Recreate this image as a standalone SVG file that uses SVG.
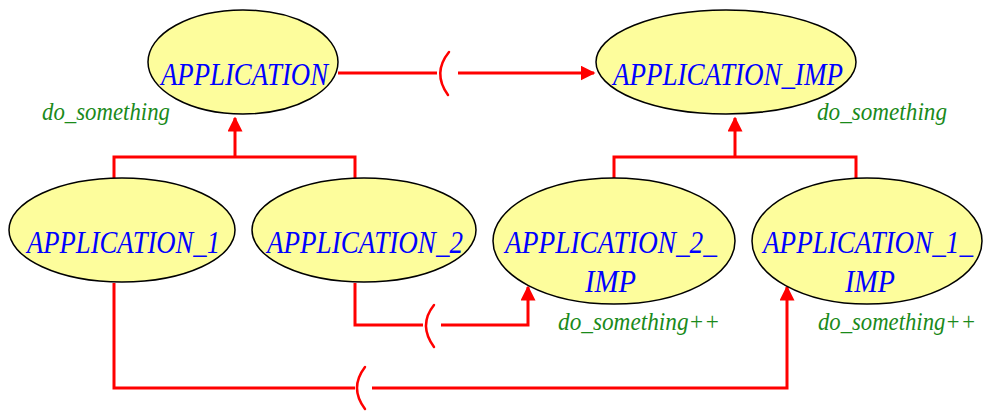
<svg xmlns="http://www.w3.org/2000/svg" width="984" height="411" viewBox="0 0 984 411">
<style>
.node ellipse{fill:#fdfd9c;stroke:#000;stroke-width:1.5}
.lbl{font-family:"Liberation Serif","Times New Roman",serif;font-style:italic;font-size:32px;fill:#0000ff}
.feat{font-family:"Liberation Serif","Times New Roman",serif;font-style:italic;font-size:25px;fill:#1a8a1a}
.wire{fill:none;stroke:#ff0000;stroke-width:3}
.arc{fill:none;stroke:#ff0000;stroke-width:2.5;stroke-linecap:round}
</style>
<defs>
<marker id="ah" markerWidth="5" markerHeight="5" refX="4.5" refY="2.5" orient="auto" markerUnits="strokeWidth">
<path d="M0,0 L5,2.5 L0,5 Z" fill="#ff0000"/>
</marker>
</defs>
<rect width="984" height="411" fill="#fff"/>
<g id="connectors">
<path class="wire" d="M338,73 H437"/>
<path class="arc" d="M449,52 Q432,73 448,95"/>
<path class="wire" d="M458,73 H594" stroke-width="3.5" marker-end="url(#ah)"/>
<path class="wire" d="M114,178 V157 H355 V178"/>
<path class="wire" d="M235,157 V118" marker-end="url(#ah)"/>
<path class="wire" d="M614,178 V157 H856 V180"/>
<path class="wire" d="M735,157 V118" marker-end="url(#ah)"/>
<path class="wire" d="M355,283 V325 H423"/>
<path class="arc" d="M434,305 Q418,325 434,347"/>
<path class="wire" d="M441,325 H528 V287" marker-end="url(#ah)"/>
<path class="wire" d="M114,283 V388 H355"/>
<path class="arc" d="M365,367 Q349,388 365,409"/>
<path class="wire" d="M372,388 H787 V287" marker-end="url(#ah)"/>
</g>
<g id="APPLICATION" class="node">
<ellipse cx="243" cy="62" rx="95" ry="52"/>
<text class="lbl" transform="translate(161,85) scale(0.84,1)" textLength="198.8" lengthAdjust="spacingAndGlyphs">APPLICATION</text>
<text class="feat" transform="translate(42,120) scale(0.92,1)" textLength="139.1" lengthAdjust="spacingAndGlyphs">do_something</text>
</g>
<g id="APPLICATION_IMP" class="node">
<ellipse cx="726" cy="62" rx="130" ry="52"/>
<text class="lbl" transform="translate(613,85) scale(0.84,1)" textLength="273.8" lengthAdjust="spacingAndGlyphs">APPLICATION_IMP</text>
<text class="feat" transform="translate(817,120) scale(0.92,1)" textLength="141.3" lengthAdjust="spacingAndGlyphs">do_something</text>
</g>
<g id="APPLICATION_1" class="node">
<ellipse cx="122" cy="230" rx="113" ry="52"/>
<text class="lbl" transform="translate(27,253) scale(0.84,1)" textLength="229.8" lengthAdjust="spacingAndGlyphs">APPLICATION_1</text>
</g>
<g id="APPLICATION_2" class="node">
<ellipse cx="364" cy="230" rx="112" ry="52"/>
<text class="lbl" transform="translate(267,253) scale(0.84,1)" textLength="233.3" lengthAdjust="spacingAndGlyphs">APPLICATION_2</text>
</g>
<g id="APPLICATION_2_IMP" class="node">
<ellipse cx="614" cy="241" rx="121" ry="63"/>
<text class="lbl" transform="translate(505,253) scale(0.84,1)" textLength="252.4" lengthAdjust="spacingAndGlyphs">APPLICATION_2_</text>
<text class="lbl" transform="translate(585,292) scale(0.84,1)" textLength="60.7" lengthAdjust="spacingAndGlyphs">IMP</text>
<text class="feat" transform="translate(558,330) scale(0.92,1)" textLength="176.1" lengthAdjust="spacingAndGlyphs">do_something++</text>
</g>
<g id="APPLICATION_1_IMP" class="node">
<ellipse cx="867" cy="241" rx="115" ry="63"/>
<text class="lbl" transform="translate(763,253) scale(0.84,1)" textLength="250" lengthAdjust="spacingAndGlyphs">APPLICATION_1_</text>
<text class="lbl" transform="translate(845,292) scale(0.84,1)" textLength="59.5" lengthAdjust="spacingAndGlyphs">IMP</text>
<text class="feat" transform="translate(818,330) scale(0.92,1)" textLength="171.7" lengthAdjust="spacingAndGlyphs">do_something++</text>
</g>
</svg>
